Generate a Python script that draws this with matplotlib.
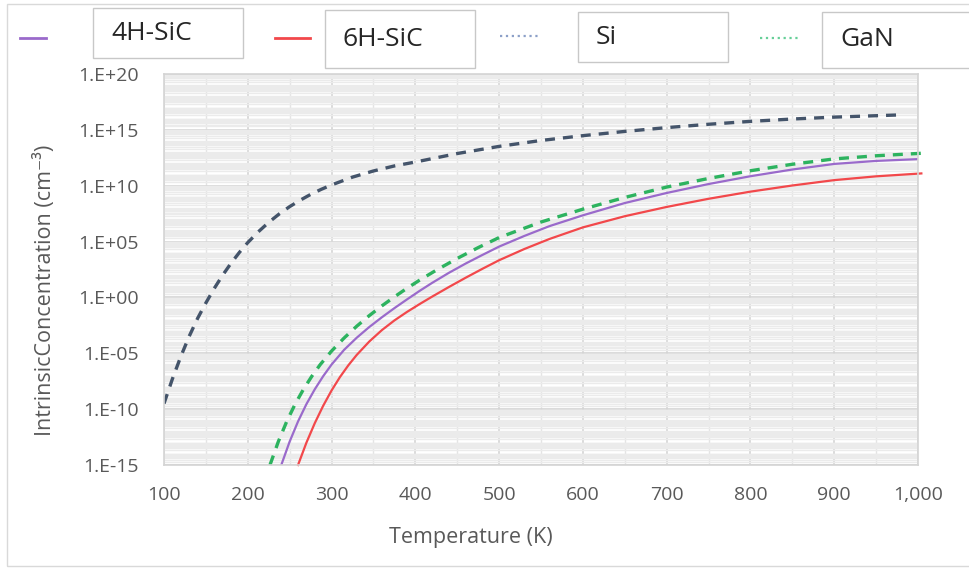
import numpy as np
import matplotlib
matplotlib.use("Agg")
import matplotlib.pyplot as plt
from matplotlib.lines import Line2D
from matplotlib.patches import Rectangle
from matplotlib.ticker import FixedLocator, LogLocator, NullFormatter

plt.rcParams['font.family'] = ['Open Sans', 'DejaVu Sans']

# Temperature (K) and log10 of intrinsic concentration (cm^-3)
t_4h = [240, 250, 260, 270, 280, 290, 300, 315, 330, 345, 360, 375, 390, 405, 420, 440, 460, 480,
        500, 530, 560, 600, 650, 700, 750, 800, 850, 900, 950, 1000]
log_4h = [-15, -12.9, -11.1, -9.55, -8.22, -7.05, -6.01, -4.69, -3.61, -2.65, -1.78, -0.96, -0.18, 0.58,
          1.3, 2.2, 3.03, 3.8, 4.55, 5.5, 6.38, 7.35, 8.45, 9.35, 10.15, 10.85, 11.45, 11.95, 12.22, 12.38]

t_6h = [260, 270, 280, 290, 300, 310, 320, 330, 345, 360, 375, 390, 405, 420, 440, 460, 480,
        500, 530, 560, 600, 650, 700, 750, 800, 850, 900, 950, 1004]
log_6h = [-15, -13.0, -11.25, -9.7, -8.33, -7.13, -6.08, -5.15, -3.95, -2.93, -2.06, -1.3, -0.6, 0.07,
          0.93, 1.76, 2.56, 3.33, 4.33, 5.23, 6.27, 7.27, 8.1, 8.83, 9.47, 10.02, 10.5, 10.84, 11.1]

t_si = [100, 110, 120, 130, 140, 150, 160, 170, 180, 190, 200, 212.5, 225, 237.5, 250, 262.5, 275,
        287.5, 300, 325, 350, 375, 400, 450, 500, 550, 600, 650, 700, 750, 800, 850, 900, 975]
log_si = [-9.5, -7.3, -5.3, -3.49, -1.89, -0.49, 0.81, 1.99, 3.06, 4.03, 4.91, 5.87, 6.72, 7.47, 8.13,
          8.7, 9.22, 9.67, 10.07, 10.77, 11.32, 11.77, 12.12, 12.88, 13.52, 14.05, 14.48, 14.86, 15.2,
          15.5, 15.76, 15.97, 16.14, 16.33]

t_gan = [226.5, 236.5, 246.5, 256.5, 266.5, 276.5, 286.5, 300, 315, 330, 345, 360, 375, 390, 405,
         425, 450, 475, 500, 550, 600, 650, 700, 750, 800, 850, 900, 950, 1008]
log_gan = [-15, -12.9, -11.1, -9.55, -8.22, -7.05, -6.01, -4.8, -3.63, -2.58, -1.63, -0.76, 0.05, 0.82,
           1.54, 2.44, 3.49, 4.46, 5.36, 6.75, 7.9, 8.95, 9.88, 10.65, 11.34, 11.92, 12.4, 12.68, 12.92]

y_ticks = [1e-15, 1e-10, 1e-5, 1e0, 1e5, 1e10, 1e15, 1e20]
y_labels = ["1.E-15", "1.E-10", "1.E-05", "1.E+00", "1.E+05", "1.E+10", "1.E+15", "1.E+20"]
x_ticks = [100, 200, 300, 400, 500, 600, 700, 800, 900, 1000]
x_labels = ["100", "200", "300", "400", "500", "600", "700", "800", "900", "1,000"]

series = ["4H-SiC", "6H-SiC", "Si", "GaN"]

W, H = 969, 570
fig = plt.figure(figsize=(W / 100, H / 100), dpi=100)
ax = fig.add_axes([164 / W, 1 - 465 / H, (918 - 164) / W, (465 - 74) / H])

ax.plot(t_4h, 10.0 ** np.array(log_4h), color="#9A6ACB", lw=1.6)
ax.plot(t_6h, 10.0 ** np.array(log_6h), color="#F2484B", lw=1.6, clip_on=False)
ax.plot(t_si, 10.0 ** np.array(log_si), color="#44546A", lw=2.4, dashes=(3, 2.4))
ax.plot(t_gan, 10.0 ** np.array(log_gan), color="#2DB35F", lw=2.4, dashes=(3, 2.4), clip_on=False)

ax.set_yscale("log")
ax.set_ylim(1e-15, 1e20)
ax.set_xlim(100, 1000)
ax.yaxis.set_major_locator(FixedLocator(y_ticks))
ax.yaxis.set_minor_locator(LogLocator(base=10, subs=np.arange(1, 10), numticks=200))
ax.yaxis.set_minor_formatter(NullFormatter())
ax.set_yticklabels(y_labels)
ax.set_xticks(x_ticks)
ax.set_xticklabels(x_labels)
ax.set_xticks(np.arange(150, 1000, 100), minor=True)

ax.grid(True, which="major", color="#d4d4d4", lw=1.2)
ax.grid(True, which="minor", axis="y", color="#ebebeb", lw=1.0)
ax.grid(True, which="minor", axis="x", color="#e4e4e4", lw=1.0)
ax.set_axisbelow(True)
for s in ax.spines.values():
    s.set_color("#d4d4d4")
    s.set_linewidth(1.2)

ax.tick_params(which="both", length=0, labelsize=14, colors="#595959")
ax.tick_params(axis="y", pad=18)
ax.tick_params(axis="x", pad=15)
ax.set_xlabel("Temperature (K)", fontsize=15.5, color="#595959")
ax.set_ylabel("IntrinsicConcentration (cm⁻³)", fontsize=15.5, color="#595959")
ax.xaxis.set_label_coords((471 - 164) / 754, (465 - 527) / 391)
ax.yaxis.set_label_coords((56 - 164) / 754, (465 - 290) / 391)

# legend: short line sample plus a boxed label, as in the original
fx = lambda px: px / W
fy = lambda py: 1 - py / H
handles = [
    dict(x=(20, 46), y=38, color="#9A6ACB", ls="-", lw=2.0),
    dict(x=(275, 310), y=38, color="#F2484B", ls="-", lw=2.0),
    dict(x=(500, 540), y=36, color="#8CA0C8", ls=":", lw=1.6),
    dict(x=(760, 800), y=38, color="#66CF98", ls=":", lw=1.6),
]
boxes = [(93, 8, 150, 50), (325, 10, 150, 58), (578, 12, 150, 50), (822, 12, 160, 56)]
for name, h, (bx, by, bw, bh) in zip(series, handles, boxes):
    fig.add_artist(Line2D([fx(h["x"][0]), fx(h["x"][1])], [fy(h["y"]), fy(h["y"])],
                          color=h["color"], ls=h["ls"], lw=h["lw"]))
    fig.add_artist(Rectangle((fx(bx), fy(by + bh)), bw / W, bh / H, fill=False,
                             edgecolor="#c8c8c8", lw=1.0))
    fig.text(fx(bx + 18), fy(by + bh / 2), name, fontsize=19, color="#262626",
             va="center", ha="left")

# outer chart frame
fig.add_artist(Rectangle((fx(7), fy(566)), (W - 5) / W, (566 - 4) / H, fill=False,
                         edgecolor="#d9d9d9", lw=1.0))

fig.savefig("out.png", dpi=100)
